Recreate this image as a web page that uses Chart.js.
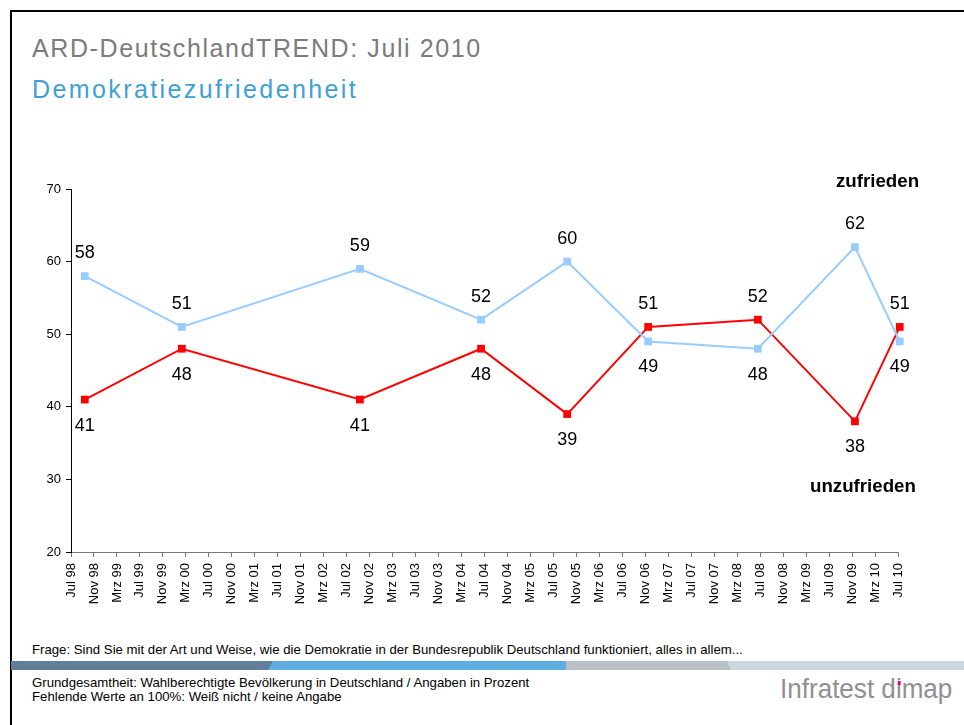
<!DOCTYPE html>
<html>
<head>
<meta charset="utf-8">
<script src="https://cdn.jsdelivr.net/npm/chart.js@4"></script>
<style>
  html, body { margin: 0; padding: 0; background: #fff; }
  body { width: 964px; height: 725px; position: relative; overflow: hidden; font-family: Arial, "Liberation Sans", sans-serif; }
  .frame { position: absolute; left: 10px; top: 10px; width: 1000px; height: 800px; border-left: 2px solid #000; border-top: 2px solid #000; }
  .title { position: absolute; left: 32px; top: 34px; font-size: 25px; line-height: normal; color: #7b7b7b; letter-spacing: 1.6px; white-space: nowrap; }
  .subtitle { position: absolute; left: 32px; top: 75px; font-size: 25px; line-height: normal; color: #3fa0d6; letter-spacing: 2.4px; white-space: nowrap; }
  .chart-box { position: absolute; left: 0; top: 0; width: 964px; height: 640px; }
  .series-name { position: absolute; font-weight: bold; font-size: 18.7px; color: #000; white-space: nowrap; }
  .note { position: absolute; left: 32px; font-size: 13.2px; color: #000; white-space: nowrap; }
  .band { position: absolute; top: 661px; height: 9px; }
  .logo { position: absolute; left: 780px; top: 674px; font-family: "Liberation Sans", Arial, sans-serif; font-size: 27px; color: #909090; white-space: nowrap; transform: scaleX(0.965); transform-origin: left top; }
  .idot { position: relative; }
  .idot::after { content: ""; position: absolute; left: 2px; top: 7px; width: 3px; height: 4px; background: #e6007e; }
</style>
</head>
<body>
<div class="frame"></div>
<div class="title">ARD-DeutschlandTREND: Juli 2010</div>
<div class="subtitle">Demokratiezufriedenheit</div>

<div class="chart-box"><canvas id="trendChart" width="964" height="640"></canvas></div>

<div class="series-name" style="left:836px; top:170px;">zufrieden</div>
<div class="series-name" style="left:810px; top:475px;">unzufrieden</div>

<div class="note" style="top:642px;">Frage: Sind Sie mit der Art und Weise, wie die Demokratie in der Bundesrepublik Deutschland funktioniert, alles in allem...</div>

<div class="band" style="left:11px; width:263px; background:#617f99; clip-path: polygon(0 0, 100% 0, calc(100% - 5px) 100%, 0 100%);"></div>
<div class="band" style="left:268px; width:299px; background:#5faee0; clip-path: polygon(5px 0, 100% 0, 100% 100%, 0 100%);"></div>
<div class="band" style="left:566px; width:166px; background:#b9c0c8; clip-path: polygon(0 0, calc(100% - 4px) 0, 100% 100%, 0 100%);"></div>
<div class="band" style="left:727px; width:237px; background:#ccd8df; clip-path: polygon(0 0, 100% 0, 100% 100%, 4px 100%);"></div>

<div class="note" style="top:675px;">Grundgesamtheit: Wahlberechtigte Bevölkerung in Deutschland / Angaben in Prozent</div>
<div class="note" style="top:689px;">Fehlende Werte an 100%: Weiß nicht / keine Angabe</div>
<div class="logo">Infratest d<span class="idot">i</span>map</div>

<script>
// months since Jul 98 for each survey
const surveyMonths = [2.4, 19.3, 50.3, 71.4, 86.4, 100.5, 119.6, 136.5, 144.3];
const zufrieden = [58, 51, 59, 52, 60, 49, 48, 62, 49];
const unzufrieden = [41, 48, 41, 48, 39, 51, 52, 38, 51];

const tickLabels = [
    'Jul 98', 'Nov 98', 'Mrz 99', 'Jul 99', 'Nov 99', 'Mrz 00', 'Jul 00', 'Nov 00',
    'Mrz 01', 'Jul 01', 'Nov 01', 'Mrz 02', 'Jul 02', 'Nov 02', 'Mrz 03', 'Jul 03',
    'Nov 03', 'Mrz 04', 'Jul 04', 'Nov 04', 'Mrz 05', 'Jul 05', 'Nov 05', 'Mrz 06',
    'Jul 06', 'Nov 06', 'Mrz 07', 'Jul 07', 'Nov 07', 'Mrz 08', 'Jul 08', 'Nov 08',
    'Mrz 09', 'Jul 09', 'Nov 09', 'Mrz 10', 'Jul 10'
];
const yTicks = [20, 30, 40, 50, 60, 70];

const toPoints = vals => vals.map((v, i) => ({ x: surveyMonths[i], y: v }));

// value labels: the higher series gets its label above, the lower one below
const valueLabels = {
    id: 'valueLabels',
    afterDatasetsDraw(chart) {
        const ctx = chart.ctx;
        ctx.save();
        ctx.font = '18px Arial, "Liberation Sans", sans-serif';
        ctx.fillStyle = '#000';
        ctx.textAlign = 'center';
        ctx.textBaseline = 'middle';
        const series = [zufrieden, unzufrieden];
        chart.data.datasets.forEach((ds, di) => {
            const meta = chart.getDatasetMeta(di);
            const other = series[1 - di];
            meta.data.forEach((pt, i) => {
                const v = series[di][i];
                const above = v >= other[i];
                ctx.fillText(String(v), pt.x, above ? pt.y - 23 : pt.y + 26);
            });
        });
        ctx.restore();
    }
};

new Chart(document.getElementById('trendChart').getContext('2d'), {
    type: 'line',
    data: {
        datasets: [{
            label: 'zufrieden',
            data: toPoints(zufrieden),
            borderColor: '#99ccff',
            backgroundColor: '#99ccff',
            borderWidth: 2,
            pointStyle: 'rect',
            pointRadius: 5.5,
            pointBorderWidth: 0,
            tension: 0
        }, {
            label: 'unzufrieden',
            data: toPoints(unzufrieden),
            borderColor: '#ff0000',
            backgroundColor: '#ff0000',
            borderWidth: 2,
            pointStyle: 'rect',
            pointRadius: 5.5,
            pointBorderWidth: 0,
            tension: 0
        }]
    },
    options: {
        responsive: false,
        animation: false,
        clip: false,
        layout: { padding: { top: 189, left: 0, right: 66, bottom: 0 } },
        plugins: { legend: { display: false }, tooltip: { enabled: false } },
        scales: {
            x: {
                type: 'linear',
                min: 0,
                max: (tickLabels.length - 1) * 4,
                afterFit: s => { s.height = 88; },
                afterBuildTicks: s => { s.ticks = tickLabels.map((t, i) => ({ value: i * 4 })); },
                ticks: {
                    autoSkip: false,
                    maxRotation: 90,
                    minRotation: 90,
                    padding: 6,
                    color: '#000',
                    font: { family: 'Arial, "Liberation Sans", sans-serif', size: 13 },
                    callback: v => tickLabels[Math.round(v / 4)]
                },
                grid: { drawOnChartArea: false, drawTicks: true, tickLength: 5, color: '#777' },
                border: { color: '#777', width: 1 }
            },
            y: {
                min: yTicks[0],
                max: yTicks[yTicks.length - 1],
                afterFit: s => { s.width = 71; },
                afterBuildTicks: s => { s.ticks = yTicks.map(v => ({ value: v })); },
                ticks: {
                    padding: 5,
                    color: '#000',
                    font: { family: 'Arial, "Liberation Sans", sans-serif', size: 13 }
                },
                grid: { drawOnChartArea: false, drawTicks: true, tickLength: 5, color: '#000' },
                border: { color: '#000', width: 1 }
            }
        }
    },
    plugins: [valueLabels]
});
</script>
</body>
</html>
